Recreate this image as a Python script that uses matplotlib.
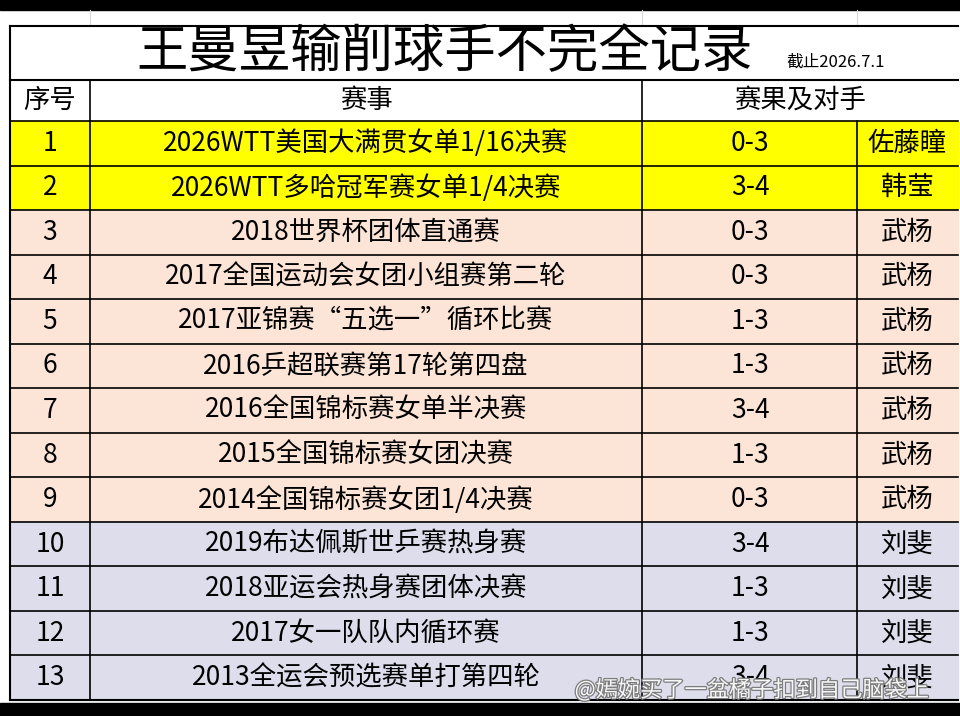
import matplotlib.pyplot as plt
import matplotlib.patheffects as pe
from matplotlib.patches import Rectangle

plt.rcParams['font.family'] = ['Noto Sans CJK SC', 'DejaVu Sans']

title = "王曼昱输削球手不完全记录"
subtitle = "截止2026.7.1"
headers = ["序号", "赛事", "赛果及对手"]
nums = [str(i) for i in range(1, 14)]
events = ["2026WTT美国大满贯女单1/16决赛", "2026WTT多哈冠军赛女单1/4决赛",
          "2018世界杯团体直通赛", "2017全国运动会女团小组赛第二轮",
          "2017亚锦赛“五选一”循环比赛", "2016乒超联赛第17轮第四盘",
          "2016全国锦标赛女单半决赛", "2015全国锦标赛女团决赛",
          "2014全国锦标赛女团1/4决赛", "2019布达佩斯世乒赛热身赛",
          "2018亚运会热身赛团体决赛", "2017女一队队内循环赛",
          "2013全运会预选赛单打第四轮"]
scores = ["0-3", "3-4", "0-3", "0-3", "1-3", "1-3", "3-4", "1-3", "0-3",
          "3-4", "1-3", "1-3", "3-4"]
opponents = ["佐藤瞳", "韩莹", "武杨", "武杨", "武杨", "武杨", "武杨", "武杨",
             "武杨", "刘斐", "刘斐", "刘斐", "刘斐"]
groups = ["y", "y"] + ["p"] * 7 + ["l"] * 4
colors = {"y": "#FFFF00", "p": "#FCE4D6", "l": "#DEDDEC"}

W, H = 960, 716
fig = plt.figure(figsize=(9.6, 7.16), dpi=100)
ax = fig.add_axes([0, 0, 1, 1])
ax.set_xlim(0, W)
ax.set_ylim(H, 0)
ax.axis("off")

# black bars top/bottom
ax.add_patch(Rectangle((0, 0), W, 10, color="black"))
ax.add_patch(Rectangle((0, 703), W, 13, color="black"))
# faint spreadsheet grid above table
for x in [90, 642, 857]:
    ax.plot([x, x], [10, 26], color="#D9D9D9", lw=0.8)

L, R = 10, 958
top, title_b, head_b = 26, 80, 121
rh = (700 - head_b) / 13

ax.plot([L, R], [top, top], color="black", lw=1.5)
ax.text(445, 52, title, ha="center", va="center", fontsize=37)
ax.text(836, 62, subtitle, ha="center", va="center", fontsize=12)
ax.plot([L, R], [title_b, title_b], color="black", lw=1.5)

ax.text(50, 100, headers[0], ha="center", va="center", fontsize=19)
ax.text(366, 100, headers[1], ha="center", va="center", fontsize=19)
ax.text(800, 100, headers[2], ha="center", va="center", fontsize=19)

for i in range(13):
    y0 = head_b + i * rh
    ax.add_patch(Rectangle((L, y0), R - L, rh, color=colors[groups[i]], zorder=0))
    yc = y0 + rh / 2
    ax.text(50, yc, nums[i], ha="center", va="center", fontsize=19)
    ax.text(366, yc, events[i], ha="center", va="center", fontsize=19)
    ax.text(750, yc, scores[i], ha="center", va="center", fontsize=19)
    ax.text(907, yc, opponents[i], ha="center", va="center", fontsize=19)
    ax.plot([L, R], [y0, y0], color="black", lw=1.2)
ax.plot([L, R], [700, 700], color="black", lw=1.5)

for x in [90, 642]:
    ax.plot([x, x], [title_b, 700], color="black", lw=1.2)
ax.plot([857, 857], [head_b, 700], color="black", lw=1.2)
ax.plot([L, L], [top, 700], color="black", lw=1.5)

ax.text(752, 690, "@嫣婉买了一盆橘子扣到自己脑袋上", ha="center", va="center",
        fontsize=16, color="white", alpha=0.95,
        path_effects=[pe.withStroke(linewidth=1.8, foreground="#777777")])

fig.savefig("out.png", dpi=100)
